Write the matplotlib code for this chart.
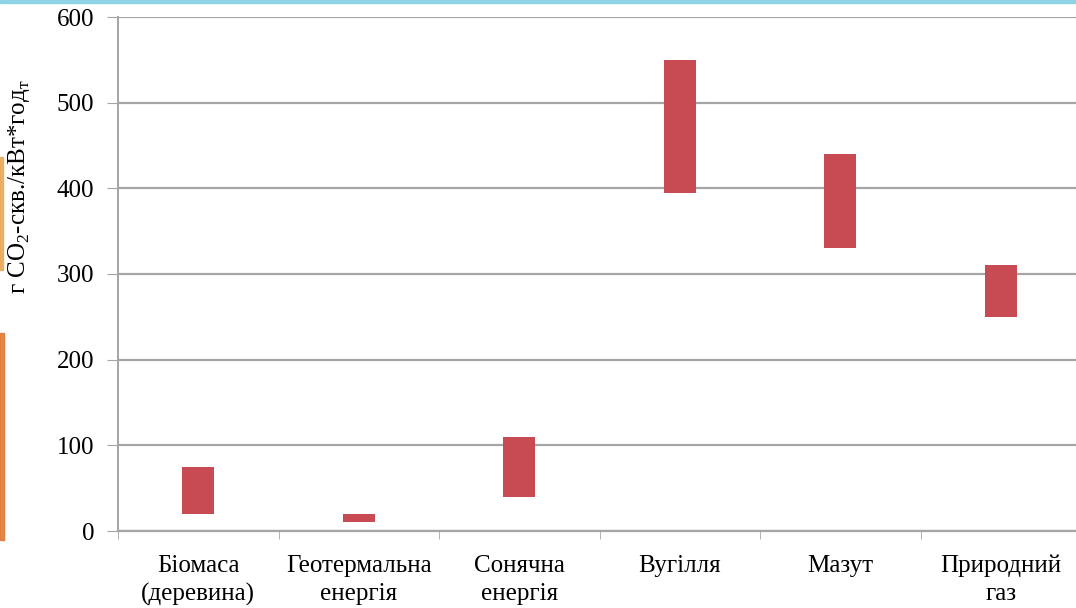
import numpy as np
import matplotlib
matplotlib.use("Agg")
import matplotlib.pyplot as plt
from matplotlib.patches import Rectangle

plt.rcParams['font.family'] = ['Liberation Serif', 'DejaVu Serif']
plt.rcParams['mathtext.fontset'] = 'custom'
plt.rcParams['mathtext.rm'] = 'Liberation Serif'

# викиди CO2 за джерелами енергії: нижня і верхня межа, г/кВт*год
dzherela = ['Біомаса\n(деревина)', 'Геотермальна\nенергія', 'Сонячна\nенергія',
            'Вугілля', 'Мазут', 'Природний\nгаз']
nyzh = [20, 10, 40, 395, 330, 250]
verkh = [75, 20, 110, 550, 440, 310]
y_ticks = [0, 100, 200, 300, 400, 500, 600]

kolir = '#C84A52'
sirij = '#A5A5A5'

fig = plt.figure(figsize=(10.76, 6.08), dpi=100)
ax = fig.add_axes([118/1076, 77/608, (1081-118)/1076, (531-17)/608])

x = np.arange(len(dzherela))
vysota = np.array(verkh) - np.array(nyzh)
ax.bar(x, vysota, bottom=nyzh, width=0.2, color=kolir, zorder=3)

ax.set_xlim(-0.5, len(dzherela) - 0.5)
ax.set_ylim(0, 600)
ax.set_yticks(y_ticks)
ax.set_yticklabels([str(v) for v in y_ticks], fontsize=18)
ax.set_xticks(x)
ax.set_xticklabels(dzherela, fontsize=18, linespacing=1.35)
ax.tick_params(axis='x', which='major', length=0, pad=17)
ax.set_xticks(np.arange(-0.5, len(dzherela), 1.0), minor=True)
ax.tick_params(axis='x', which='minor', length=6, color=sirij, direction='out')
ax.tick_params(axis='y', length=8, color=sirij, pad=9)

ax.yaxis.grid(True, color=sirij, linewidth=1.6, zorder=0)
ax.set_axisbelow(True)
for s in ['top', 'right']:
    ax.spines[s].set_visible(False)
ax.spines['left'].set_color(sirij)
ax.spines['left'].set_linewidth(1.4)
ax.spines['bottom'].set_color(sirij)
ax.spines['bottom'].set_linewidth(1.6)

fig.text(0.018, (608-187)/608, r'г CO$_2$-скв./кВт*год$_\mathregular{т}$',
         rotation=90, fontsize=18, ha='center', va='center')

# тонкі смуги фону слайда
fig.patches.append(Rectangle((0, 1 - 3/608), 1, 3/608, transform=fig.transFigure,
                             color='#8fd3e6', zorder=0))
fig.patches.append(Rectangle((0, (608-540)/608), 4/1076, (540-333)/608,
                             transform=fig.transFigure, color='#e0742e', alpha=0.85, zorder=0))
fig.patches.append(Rectangle((0, (608-270)/608), 3/1076, (270-157)/608,
                             transform=fig.transFigure, color='#e8a04a', alpha=0.8, zorder=0))

fig.savefig('out.png', dpi=100)
